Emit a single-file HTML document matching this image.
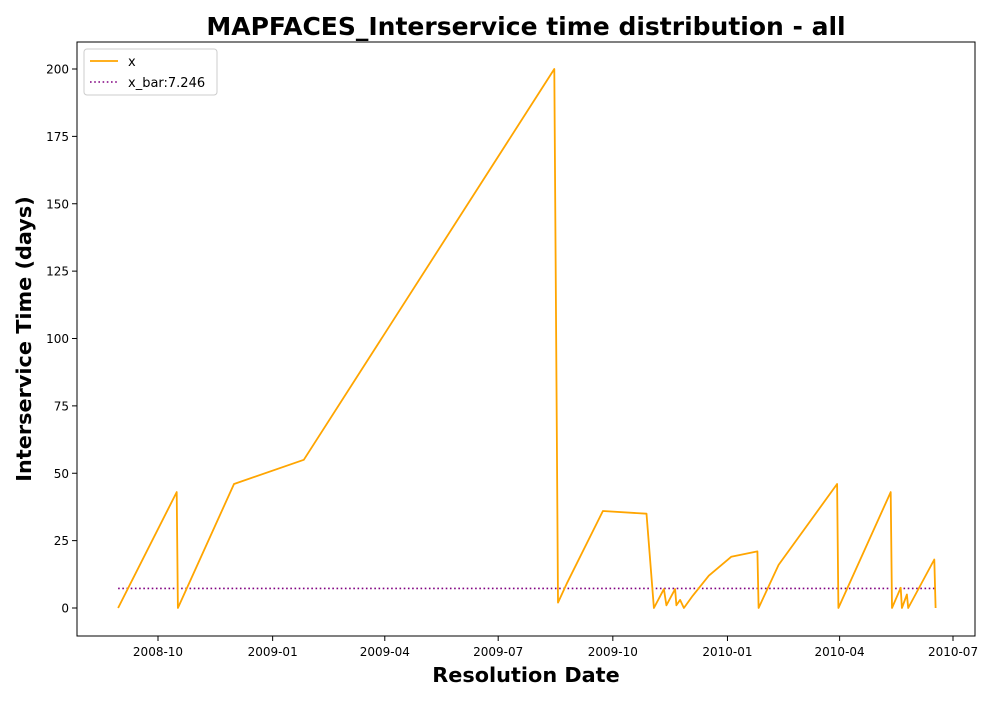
<!DOCTYPE html>
<html><head><meta charset="utf-8"><style>
body{margin:0;background:#fff;}
svg{font-family:"DejaVu Sans","Liberation Sans",sans-serif;}
</style></head><body>
<svg id="chart" width="1000" height="700">
<rect x="0" y="0" width="1000" height="700" fill="#fff"/>
<text x="526" y="35" text-anchor="middle" font-size="25" font-weight="bold">MAPFACES_Interservice time distribution - all</text>
<g id="plot"></g>
<text x="526" y="682" text-anchor="middle" font-size="20.8" font-weight="bold">Resolution Date</text>
<text transform="translate(31,339) rotate(-90)" text-anchor="middle" font-size="20.8" font-weight="bold">Interservice Time (days)</text>
</svg>
<script>
const dates=["2008-08-30","2008-10-16","2008-10-17","2008-12-01","2009-01-26","2009-08-15","2009-08-18","2009-08-25","2009-09-23","2009-10-28","2009-11-03","2009-11-11","2009-11-13","2009-11-20","2009-11-21","2009-11-24","2009-11-26","2009-11-27","2009-12-04","2009-12-17","2010-01-04","2010-01-25","2010-01-26","2010-02-11","2010-03-30","2010-03-31","2010-05-12","2010-05-13","2010-05-20","2010-05-21","2010-05-25","2010-05-26","2010-06-16","2010-06-17"];
const values=[0,43,0,46,55,200,2,9,36,35,0,7,1,7,1,3,1,0,4.5,12,19,21,0,16,46,0,43,0,7.5,0,5,0,18,0];
const meanValue=7.246;
const yTicks=[0,25,50,75,100,125,150,175,200];
const xTickLabels=["2008-10","2009-01","2009-04","2009-07","2009-10","2010-01","2010-04","2010-07"];

const NS="http://www.w3.org/2000/svg";
const L=77,R=975,T=42,B=636;
const base=Date.UTC(2008,9,1);
function dayOf(s){const p=s.split("-");return (Date.UTC(+p[0],+p[1]-1,+(p[2]||1))-base)/86400000;}
function xs(s){return 158+dayOf(s)*1.2461;}
function ys(v){return 608-v*2.695;}
const g=document.getElementById("plot");
function mk(tag,attrs){const e=document.createElementNS(NS,tag);for(const k in attrs)e.setAttribute(k,attrs[k]);g.appendChild(e);return e;}

yTicks.forEach(v=>{
  const y=ys(v);
  const t=mk("line",{x1:L-5,x2:L,y1:y,y2:y,stroke:"#000"});
  
  
  const tx=mk("text",{x:L-8,y:y+4.5,"text-anchor":"end","font-size":"12"});
  tx.textContent=v;
  
  
});
xTickLabels.forEach(s=>{
  const x=xs(s+"-01");
  const t=mk("line",{x1:x,x2:x,y1:B,y2:B+5,stroke:"#000"});
  
  
  const tx=mk("text",{x:x,y:B+20,"text-anchor":"middle","font-size":"12"});
  tx.textContent=s;
  
  
});

const mean=mk("line",{x1:xs(dates[0]),x2:xs(dates[dates.length-1]),y1:ys(meanValue),y2:ys(meanValue),stroke:"#800080","stroke-width":"1.6","stroke-dasharray":"1.6,2.6"});



const pts=dates.map((d,i)=>xs(d).toFixed(1)+","+ys(values[i]).toFixed(1)).join(" ");
const line=mk("polyline",{points:pts,fill:"none",stroke:"#FFA500","stroke-width":"1.8","stroke-linejoin":"round"});



const frame=mk("rect",{x:L,y:T,width:R-L,height:B-T,fill:"none",stroke:"#000","stroke-width":"1"});



const lg=mk("rect",{x:84,y:49,width:133,height:46,fill:"#fff",stroke:"#ccc",rx:3});


const l1=mk("line",{x1:90,x2:118,y1:61,y2:61,stroke:"#FFA500","stroke-width":"1.8"});


const t1=mk("text",{x:128,y:66,"font-size":"13"});t1.textContent="x";


const l2=mk("line",{x1:90,x2:118,y1:82,y2:82,stroke:"#800080","stroke-width":"1.6","stroke-dasharray":"1.6,2.6"});


const t2=mk("text",{x:128,y:87,"font-size":"13"});t2.textContent="x_bar:7.246";


</script>
</body></html>
